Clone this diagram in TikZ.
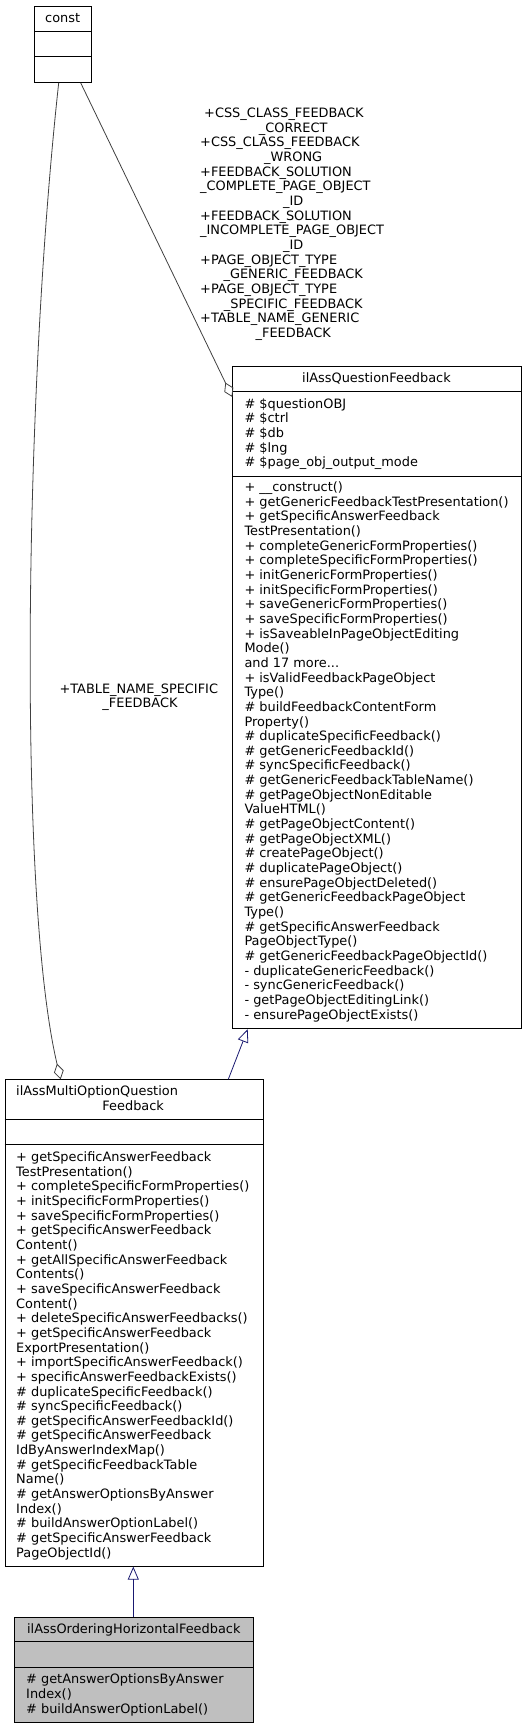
\documentclass[tikz,border=0pt]{standalone}
\usepackage{fontspec}
\setmainfont{DejaVu Sans}
\usetikzlibrary{arrows.meta,calc}
\newcommand\dfont{\fontsize{12.9}{14.65}\selectfont}
\newcommand\ctr[1]{\hspace*{\fill}#1\hspace*{\fill}\mbox{}}
\definecolor{edgegray}{HTML}{404040}
\definecolor{inhblue}{HTML}{191970}
\tikzset{
  umlbox/.style={draw=black, line width=0.9pt, fill=white, rectangle, inner sep=0pt, anchor=north west},
  divider/.style={draw=black, line width=0.9pt},
  txt/.style={font=\dfont, inner sep=0pt, anchor=north west, align=left},
  ttl/.style={font=\dfont, inner sep=0pt, anchor=base},
  aggr/.style={draw=edgegray, line width=0.8pt, -{Diamond[open,length=16pt,width=10pt,line width=0.8pt]}},
  inherit/.style={draw=inhblue, line width=0.8pt, -{Triangle[open,length=13pt,width=11pt,line width=0.8pt]}},
  elabel/.style={font=\dfont, inner sep=0pt, anchor=north west, align=left}
}
\begin{document}
\begin{tikzpicture}[x=1pt,y=1pt]
\useasboundingbox (0,0) rectangle (526,-1728);

% const
\node[umlbox, minimum width=57.3pt, minimum height=76.3pt] (const) at (34,-5.7) {};
\draw[divider] ($(const.north west)+(0,-25.6)$) -- ($(const.north east)+(0,-25.6)$);
\draw[divider] ($(const.north west)+(0,-51)$) -- ($(const.north east)+(0,-51)$);
\node[ttl] (constt) at (62.7,-22.7) {const};

% ilAssQuestionFeedback
\node[umlbox, minimum width=288.4pt, minimum height=662.3pt] (qf) at (232.3,-366) {};
\draw[divider] ($(qf.north west)+(0,-25.7)$) -- ($(qf.north east)+(0,-25.7)$);
\draw[divider] ($(qf.north west)+(0,-110)$) -- ($(qf.north east)+(0,-110)$);
\node[ttl] (qft) at (376.5,-382.0) {ilAssQuestionFeedback};
\node[txt] (qfa) at (244.3,-397.75) {\strut\# \$questionOBJ\\\# \$ctrl\\\# \$db\\\# \$lng\\\# \$page\_obj\_output\_mode};
\node[txt] (qfm) at (244.3,-481.15) {\strut+ \_\_construct()\\
+ getGenericFeedbackTestPresentation()\\
+ getSpecificAnswerFeedback\\
TestPresentation()\\
+ completeGenericFormProperties()\\
+ completeSpecificFormProperties()\\
+ initGenericFormProperties()\\
+ initSpecificFormProperties()\\
+ saveGenericFormProperties()\\
+ saveSpecificFormProperties()\\
+ isSaveableInPageObjectEditing\\
Mode()\\
and 17 more...\\
+ isValidFeedbackPageObject\\
Type()\\
\# buildFeedbackContentForm\\
Property()\\
\# duplicateSpecificFeedback()\\
\# getGenericFeedbackId()\\
\# syncSpecificFeedback()\\
\# getGenericFeedbackTableName()\\
\# getPageObjectNonEditable\\
ValueHTML()\\
\# getPageObjectContent()\\
\# getPageObjectXML()\\
\# createPageObject()\\
\# duplicatePageObject()\\
\# ensurePageObjectDeleted()\\
\# getGenericFeedbackPageObject\\
Type()\\
\# getSpecificAnswerFeedback\\
PageObjectType()\\
\# getGenericFeedbackPageObjectId()\\
- duplicateGenericFeedback()\\
- syncGenericFeedback()\\
- getPageObjectEditingLink()\\
- ensurePageObjectExists()};

% ilAssMultiOptionQuestionFeedback
\node[umlbox, minimum width=258pt, minimum height=486.4pt] (mo) at (4.7,-1079.3) {};
\draw[divider] ($(mo.north west)+(0,-40)$) -- ($(mo.north east)+(0,-40)$);
\draw[divider] ($(mo.north west)+(0,-65.4)$) -- ($(mo.north east)+(0,-65.4)$);
\node[txt, text width=234pt] (mot) at (16,-1085.45) {\strut ilAssMultiOptionQuestion\\\ctr{Feedback}};
\node[txt] (mom) at (16,-1151.15) {\strut+ getSpecificAnswerFeedback\\
TestPresentation()\\
+ completeSpecificFormProperties()\\
+ initSpecificFormProperties()\\
+ saveSpecificFormProperties()\\
+ getSpecificAnswerFeedback\\
Content()\\
+ getAllSpecificAnswerFeedback\\
Contents()\\
+ saveSpecificAnswerFeedback\\
Content()\\
+ deleteSpecificAnswerFeedbacks()\\
+ getSpecificAnswerFeedback\\
ExportPresentation()\\
+ importSpecificAnswerFeedback()\\
+ specificAnswerFeedbackExists()\\
\# duplicateSpecificFeedback()\\
\# syncSpecificFeedback()\\
\# getSpecificAnswerFeedbackId()\\
\# getSpecificAnswerFeedback\\
IdByAnswerIndexMap()\\
\# getSpecificFeedbackTable\\
Name()\\
\# getAnswerOptionsByAnswer\\
Index()\\
\# buildAnswerOptionLabel()\\
\# getSpecificAnswerFeedback\\
PageObjectId()};

% ilAssOrderingHorizontalFeedback
\node[umlbox, fill=black!25, minimum width=239pt, minimum height=105pt] (oh) at (14.3,-1616.7) {};
\draw[divider] ($(oh.north west)+(0,-25)$) -- ($(oh.north east)+(0,-25)$);
\draw[divider] ($(oh.north west)+(0,-50.6)$) -- ($(oh.north east)+(0,-50.6)$);
\node[ttl] (oht) at (133.8,-1633.0) {ilAssOrderingHorizontalFeedback};
\node[txt] (ohm) at (26,-1673.45) {\strut\# getAnswerOptionsByAnswer\\Index()\\\# buildAnswerOptionLabel()};

% edges
\coordinate (qfdia) at ($(qf.north west)+(0,-31)$);
\draw[aggr] ($(const.south west)+(46.7,0)$) -- (qfdia);
\coordinate (modia) at ($(mo.north west)+(56,0)$);
\draw[aggr] ($(const.south west)+(24.7,0)$) .. controls (24,-400) and (18,-900) .. (modia);
\draw[inherit] ($(mo.north west)+(223.6,0)$) -- ($(qf.south west)+(15.4,0)$);
\draw[inherit] ($(oh.north west)+(119,0)$) -- ($(mo.south west)+(128.6,0)$);

% edge labels
\node[elabel, text width=186pt] (lab1) at (200,-107.15) {\strut\hspace*{4pt}+CSS\_CLASS\_FEEDBACK\\
\ctr{\_CORRECT}\\
+CSS\_CLASS\_FEEDBACK\\
\ctr{\_WRONG}\\
+FEEDBACK\_SOLUTION\\
\_COMPLETE\_PAGE\_OBJECT\\
\ctr{\_ID}\\
+FEEDBACK\_SOLUTION\\
\_INCOMPLETE\_PAGE\_OBJECT\\
\ctr{\_ID}\\
+PAGE\_OBJECT\_TYPE\\
\ctr{\_GENERIC\_FEEDBACK}\\
+PAGE\_OBJECT\_TYPE\\
\ctr{\_SPECIFIC\_FEEDBACK}\\
+TABLE\_NAME\_GENERIC\\
\ctr{\_FEEDBACK}};
\node[elabel, text width=161pt] (lab2) at (59.3,-682.75) {\strut +TABLE\_NAME\_SPECIFIC\\\ctr{\_FEEDBACK}};
\end{tikzpicture}
\end{document}
